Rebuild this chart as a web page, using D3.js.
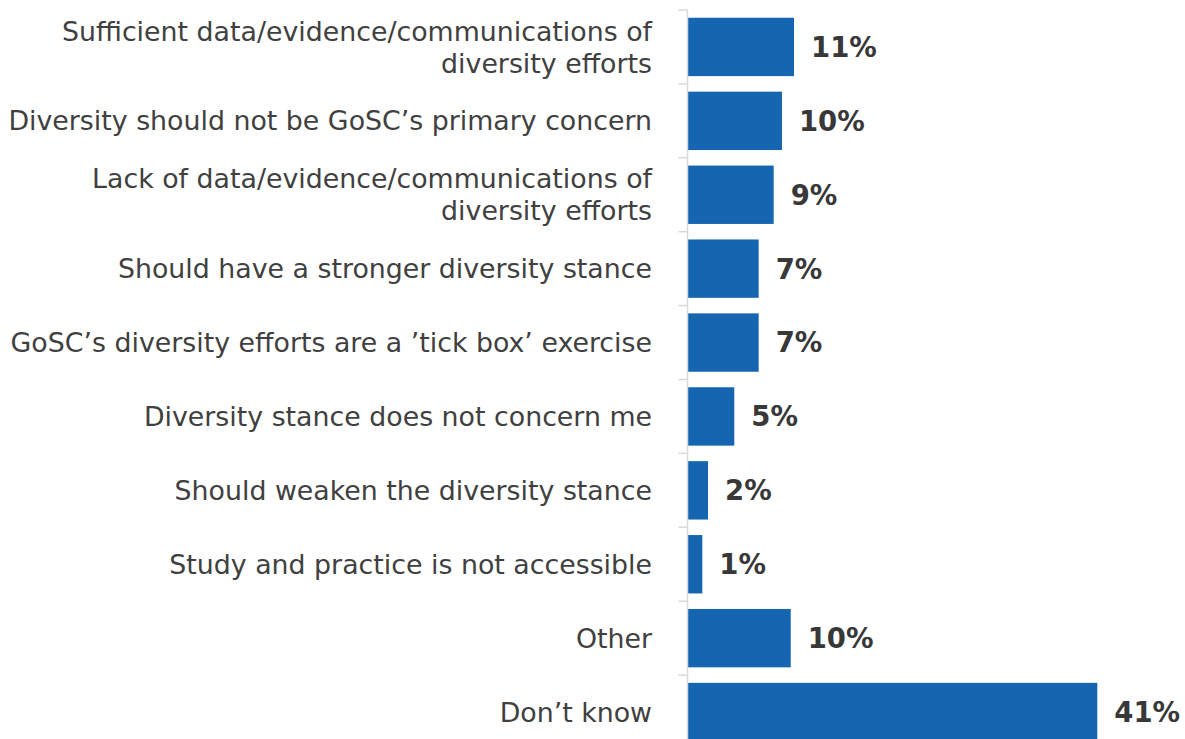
<!DOCTYPE html>
<html>
<head>
<meta charset="utf-8">
<script src="https://cdn.jsdelivr.net/npm/d3@7"></script>
<style>
  html, body { margin: 0; padding: 0; background: #ffffff; }
  svg { display: block; }
</style>
</head>
<body>
<svg id="chart" width="1185" height="739"></svg>
<script>
// Survey responses (share of respondents, %)
const categories = [
  "Sufficient data/evidence/communications of diversity efforts",
  "Diversity should not be GoSC’s primary concern",
  "Lack of data/evidence/communications of diversity efforts",
  "Should have a stronger diversity stance",
  "GoSC’s diversity efforts are a ’tick box’ exercise",
  "Diversity stance does not concern me",
  "Should weaken the diversity stance",
  "Study and practice is not accessible",
  "Other",
  "Don’t know"
];
// Label text broken into display lines
const labelLines = [
  ["Sufficient data/evidence/communications of", "diversity efforts"],
  ["Diversity should not be GoSC’s primary concern"],
  ["Lack of data/evidence/communications of", "diversity efforts"],
  ["Should have a stronger diversity stance"],
  ["GoSC’s diversity efforts are a ’tick box’ exercise"],
  ["Diversity stance does not concern me"],
  ["Should weaken the diversity stance"],
  ["Study and practice is not accessible"],
  ["Other"],
  ["Don’t know"]
];
const shares = [10.74, 9.52, 8.68, 7.16, 7.16, 4.69, 2.03, 1.45, 10.41, 41.47];

const data = categories.map((c, i) => ({ category: c, lines: labelLines[i], value: shares[i] }));

const svg = d3.select("#chart");
const axisX = 687.5;

const x = d3.scaleLinear().domain([0, 45]).range([688, 688 + 45 * 9.87]);
const y = d3.scaleBand()
  .domain(categories)
  .range([10, 749])
  .paddingInner(0.21)
  .paddingOuter(0.105);

// Bars
svg.append("g")
  .selectAll("rect")
  .data(data)
  .join("rect")
  .attr("x", x(0))
  .attr("y", d => y(d.category))
  .attr("width", d => x(d.value) - x(0))
  .attr("height", y.bandwidth())
  .attr("fill", "#1565b0");

// Category axis line and separator ticks
const step = y.step();
const y0 = y.range()[0];
const axisG = svg.append("g");
axisG.append("line")
  .attr("x1", axisX).attr("x2", axisX)
  .attr("y1", y0).attr("y2", y0 + step * categories.length)
  .attr("stroke", "#d9d9d9").attr("stroke-width", 1.5);
axisG.selectAll("line.tick")
  .data(d3.range(categories.length + 1))
  .join("line")
  .attr("class", "tick")
  .attr("x1", axisX - 9).attr("x2", axisX)
  .attr("y1", i => y0 + i * step).attr("y2", i => y0 + i * step)
  .attr("stroke", "#d9d9d9").attr("stroke-width", 1.5);

// Category labels
const lineGap = 32;
const labels = svg.append("g")
  .attr("font-family", "'DejaVu Sans', sans-serif")
  .attr("font-size", 26.8)
  .attr("fill", "#404040")
  .attr("text-anchor", "end");
labels.selectAll("text")
  .data(data)
  .join("text")
  .attr("x", 652)
  .attr("y", d => y(d.category) + y.bandwidth() / 2)
  .each(function(d) {
    const t = d3.select(this);
    const n = d.lines.length;
    d.lines.forEach((ln, j) => {
      t.append("tspan")
        .attr("x", 652)
        .attr("y", y(d.category) + y.bandwidth() / 2 + (j - (n - 1) / 2) * lineGap)
        .attr("dy", "0.36em")
        .text(ln);
    });
  });

// Value labels
const fmt = v => Math.round(v) + "%";
svg.append("g")
  .attr("font-family", "'DejaVu Sans', sans-serif")
  .attr("font-weight", "bold")
  .attr("font-size", 27.5)
  .attr("fill", "#383838")
  .selectAll("text")
  .data(data)
  .join("text")
  .attr("x", d => x(d.value) + 17)
  .attr("y", d => y(d.category) + y.bandwidth() / 2)
  .attr("dy", "0.36em")
  .text(d => fmt(d.value));
</script>
</body>
</html>
